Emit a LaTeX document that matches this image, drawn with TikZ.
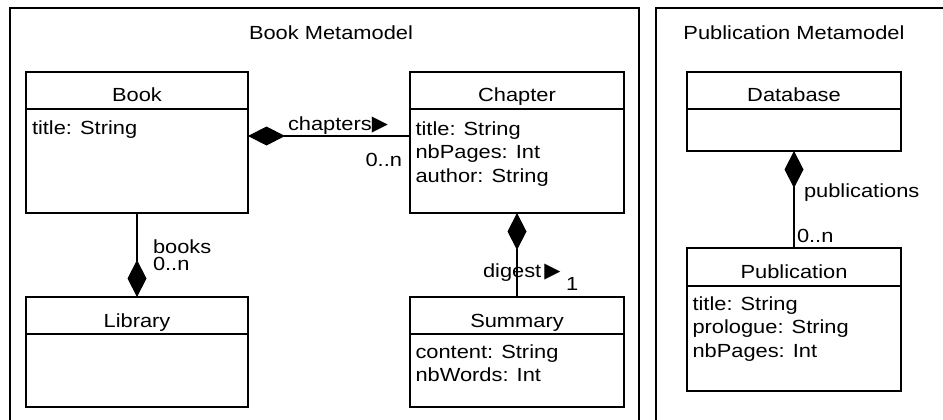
\documentclass[tikz,border=0pt]{standalone}
\usepackage{fontspec}
\setmainfont{Liberation Sans}
\newfontfamily\symfont{DejaVu Sans}
\usetikzlibrary{arrows.meta}

% text in this drawing is set slightly wide
\newcommand\wide[1]{\scalebox{1.15}[1]{#1}}
\newcommand\navtri{{\symfont\fontsize{21}{21}\selectfont ▶}}

% UML class: name, top-left corner, width, height, header depth, title
\newcommand\umlclass[6]{%
  \node[classbox, minimum width=#3pt, minimum height=#4pt] (#1) at (#2) {};
  \draw ([yshift=-#5pt]#1.north west) -- ([yshift=-#5pt]#1.north east);
  \node[anchor=base] (#1-title) at ([yshift=-30pt]#1.north) {\wide{#6}};
}

\begin{document}
\begin{tikzpicture}[x=1pt, y=-1pt, line width=1.2pt,
  every node/.style={inner sep=0pt, outer sep=0pt, font=\fontsize{19}{23.5}\selectfont},
  classbox/.style={draw, anchor=north west},
  attrs/.style={anchor=base west, align=left},
  lbl/.style={anchor=base west},
  comp/.tip={Diamond[length=37pt, width=19pt]}
]
\useasboundingbox (0,0) rectangle (943,420);

% package frames
\draw (10,420) |- (639,8) -- (639,420);
\draw (656,420) |- (943,8);
\node[anchor=base] (bookpkg) at (331,40) {\wide{Book Metamodel}};
\node[anchor=base] (pubpkg) at (794,40) {\wide{Publication Metamodel}};

% Book metamodel classes
\umlclass{book}{26,72}{222}{141}{37}{Book}
\umlclass{chapter}{410,72}{214}{141}{37}{Chapter}
\umlclass{library}{26,297}{222}{110}{37}{Library}
\umlclass{summary}{410,297}{214}{110}{37}{Summary}

% attribute blocks are anchored at the baseline of their last line
\node[attrs] (book-attrs) at ([xshift=6pt, yshift=-63pt]book.north west) {\wide{title: String}};
\node[attrs] (chapter-attrs) at ([xshift=5.5pt, yshift=-110pt]chapter.north west)
  {\wide{title: String}\\\wide{nbPages: Int}\\\wide{author: String}};
\node[attrs] (summary-attrs) at ([xshift=5.5pt, yshift=-84.5pt]summary.north west)
  {\wide{content: String}\\\wide{nbWords: Int}};

% Publication metamodel classes
\umlclass{database}{687,72}{214}{79}{37}{Database}
\umlclass{publication}{687,248}{214}{143}{38}{Publication}
\node[attrs] (publication-attrs) at ([xshift=5.5pt, yshift=-109pt]publication.north west)
  {\wide{title: String}\\\wide{prologue: String}\\\wide{nbPages: Int}};

% compositions
\draw[{comp}-] ([yshift=6.5pt]book.east) -- ([yshift=6.5pt]chapter.west);
\draw[-{comp}] (book.south) -- (library.north);
\draw[{comp}-] (chapter.south) -- (summary.north);
\draw[{comp}-] (database.south) -- (publication.north);

% association labels
\node[lbl] (chapters-role) at (288,131) {\wide{chapters}\navtri};
\node[anchor=base east] (chapters-mult) at (402,166) {\wide{0..n}};
\node[lbl] (books-role) at (153,253) {\wide{books}};
\node[lbl] (books-mult) at (153,270) {\wide{0..n}};
\node[lbl] (digest-role) at (483,277) {\wide{digest}\,\navtri};
\node[lbl] (digest-mult) at (566,290) {\wide{1}};
\node[lbl] (pub-role) at (804,197) {\wide{publications}};
\node[lbl] (pub-mult) at (797,242) {\wide{0..n}};
\end{tikzpicture}
\end{document}
